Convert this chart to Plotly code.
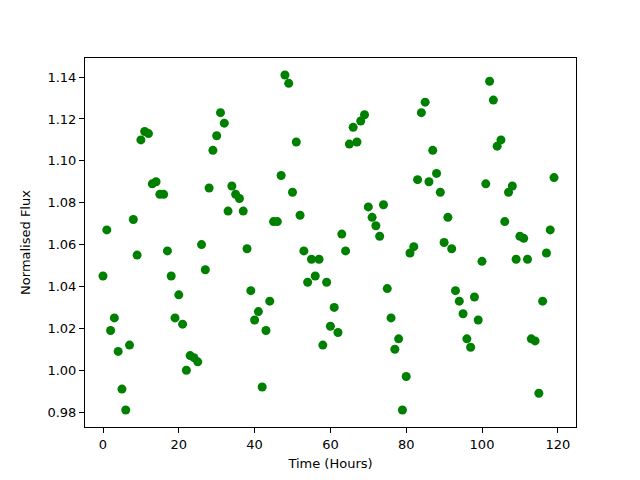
import plotly.graph_objects as go

hours = list(range(120))
flux = [
    1.045, 1.067, 1.019, 1.025, 1.009, 0.991, 0.981, 1.012, 1.072, 1.055,
    1.110, 1.114, 1.113, 1.089, 1.090, 1.084, 1.084, 1.057, 1.045, 1.025,
    1.036, 1.022, 1.000, 1.007, 1.006, 1.004, 1.060, 1.048, 1.087, 1.105,
    1.112, 1.123, 1.118, 1.076, 1.088, 1.084, 1.082, 1.076, 1.058, 1.038,
    1.024, 1.028, 0.992, 1.019, 1.033, 1.071, 1.071, 1.093, 1.141, 1.137,
    1.085, 1.109, 1.074, 1.057, 1.042, 1.053, 1.045, 1.053, 1.012, 1.042,
    1.021, 1.030, 1.018, 1.065, 1.057, 1.108, 1.116, 1.109, 1.119, 1.122,
    1.078, 1.073, 1.069, 1.064, 1.079, 1.039, 1.025, 1.010, 1.015, 0.981,
    0.997, 1.056, 1.059, 1.091, 1.123, 1.128, 1.090, 1.105, 1.094, 1.085,
    1.061, 1.073, 1.058, 1.038, 1.033, 1.027, 1.015, 1.011, 1.035, 1.024,
    1.052, 1.089, 1.138, 1.129, 1.107, 1.110, 1.071, 1.085, 1.088, 1.053,
    1.064, 1.063, 1.053, 1.015, 1.014, 0.989, 1.033, 1.056, 1.067, 1.092,
]

fig = go.Figure(go.Scatter(
    x=hours, y=flux, mode="markers",
    marker=dict(color="#008000", size=9, line=dict(width=0)),
))

axis_common = dict(
    showline=True, linecolor="black", linewidth=1, mirror=True,
    ticks="outside", ticklen=5, tickcolor="black", tickwidth=1,
    showgrid=False, zeroline=False, automargin=False,
    tickfont=dict(family="DejaVu Sans", size=13, color="black"),
)

fig.update_layout(
    width=640, height=480,
    margin=dict(l=77, r=72, t=50, b=61),
    paper_bgcolor="white", plot_bgcolor="white",
    showlegend=False,
    font=dict(family="DejaVu Sans", size=13, color="black"),
    xaxis=dict(range=[-4.75, 124.8], tickvals=[0, 20, 40, 60, 80, 100, 120],
               title=dict(text="Time (Hours)", font=dict(size=13), standoff=8),
               **axis_common),
    yaxis=dict(range=[0.9729, 1.1491], dtick=0.02, tick0=0.98, tickformat=".2f",
               title=dict(text="Normalised Flux", font=dict(size=13), standoff=13),
               **axis_common),
)

fig.write_html("out.html")
